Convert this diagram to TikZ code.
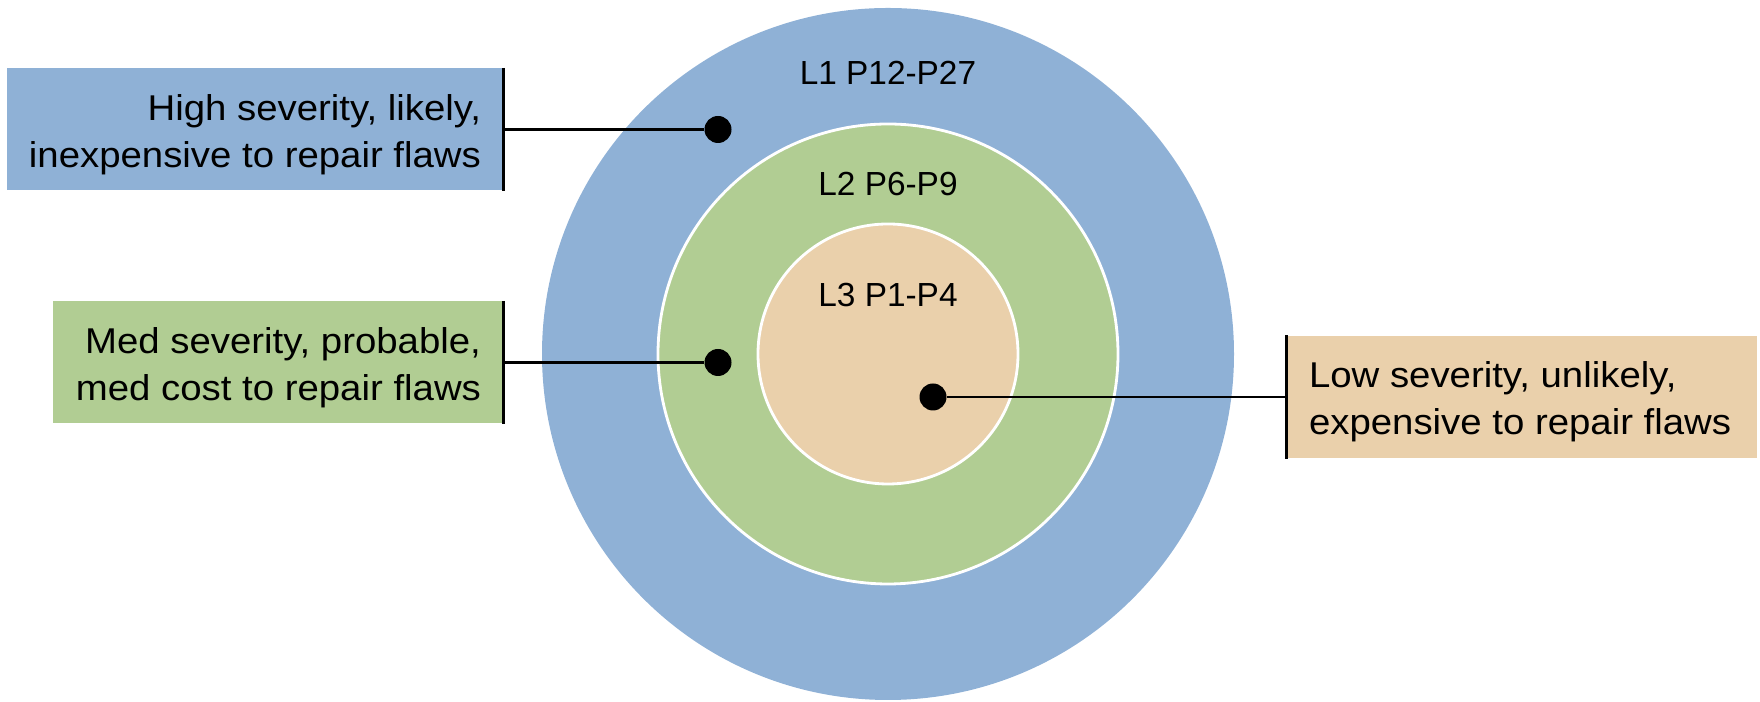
\documentclass[tikz,border=0pt]{standalone}
\usepackage{fontspec}
\setmainfont{Liberation Sans}
\usetikzlibrary{calc, positioning}
\definecolor{ringblue}{RGB}{143,177,214}
\definecolor{ringgreen}{RGB}{177,205,147}
\definecolor{ringtan}{RGB}{234,208,171}
\def\boxh{1.22cm}
\def\textgap{2.2mm}
\def\dotradius{0.135cm}
\tikzset{
    ring/.style = {
        draw=white, line width=0.8pt
    },
    ringlabel/.style = {
        anchor=base, inner sep=0pt, font=\fontsize{9.5}{11}\selectfont
    },
    infobox/.style = {
        rectangle, minimum height=\boxh, inner sep=0pt
    },
    boxtext/.style = {
        inner sep=0pt, xscale=1.07, transform shape, font=\fontsize{10.2}{13.3}\selectfont
    },
    leader/.style = {
        line width=0.7pt
    },
    flawdot/.style = {
        circle, fill=black, inner sep=0pt, minimum size=2*\dotradius
    },
}

\begin{document}
\begin{tikzpicture}
        \useasboundingbox (0,0) rectangle (17.6,7.02);
        % Draw the rings
        \coordinate (c) at (8.88,3.48);
        \fill[ringblue] (c) circle (3.46);
        \filldraw[ring, fill=ringgreen] (c) circle (2.30);
        \filldraw[ring, fill=ringtan] (c) circle (1.30);
        \node[ringlabel] (l1) at (8.88,6.17) {L1 P12-P27};
        \node[ringlabel] (l2) at (8.88,5.06) {L2 P6-P9};
        \node[ringlabel] (l3) at (8.88,3.95) {L3 P1-P4};

        % Place the boxes
        \node[infobox, fill=ringblue, minimum width=4.96cm] (high) at (2.55,5.725) {};
        \node[infobox, fill=ringgreen, minimum width=4.50cm] (med) at (2.78,3.395) {};
        \node[infobox, fill=ringtan, minimum width=4.70cm] (low) at (15.22,3.05) {};
        \node[boxtext, align=right, anchor=east] (hightext) at ([xshift=-\textgap, yshift=-0.5mm] high.east) {High severity, likely,\\inexpensive to repair flaws};
        \node[boxtext, align=right, anchor=east] (medtext) at ([xshift=-\textgap, yshift=-0.5mm] med.east) {Med severity, probable,\\med cost to repair flaws};
        \node[boxtext, align=left, anchor=west] (lowtext) at ([xshift=\textgap, yshift=-0.5mm] low.west) {Low severity, unlikely,\\expensive to repair flaws};
        \foreach \x in {high, med}{
            \draw[leader] (\x.north east) -- (\x.south east);
        }
        \draw[leader] (low.north west) -- (low.south west);

        % Draw connections
        \node[flawdot] (d1) at (7.18,5.725) {};
        \node[flawdot] (d2) at (7.18,3.395) {};
        \node[flawdot] (d3) at (9.33,3.05) {};
        \draw[leader] (high.east) -- (d1);
        \draw[leader] (med.east) -- (d2);
        \draw[leader] (low.west) -- (d3);
    \end{tikzpicture}
\end{document}
